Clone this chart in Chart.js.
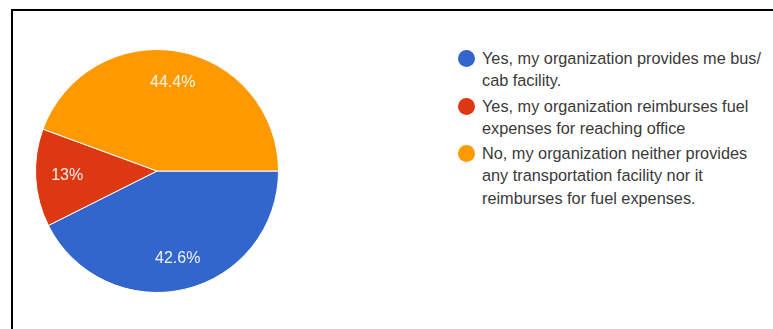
<!DOCTYPE html>
<html>
<head>
<meta charset="utf-8">
<script src="https://cdn.jsdelivr.net/npm/chart.js@4/dist/chart.umd.min.js"></script>
<style>
  html, body { margin: 0; padding: 0; background: #fff; }
  body { width: 773px; height: 329px; position: relative; overflow: hidden; font-family: "Liberation Sans", Arial, sans-serif; }
  #frame { position: absolute; left: 11px; top: 9px; width: 760px; height: 330px; border-left: 2px solid #000; border-top: 2px solid #000; }
  #pieBox { position: absolute; left: 25px; top: 39px; width: 264px; height: 264px; }
  #legend { position: absolute; left: 458px; top: 47px; width: 310px; }
  .item { position: relative; padding-left: 24px; font-size: 16.3px; line-height: 22.3px; color: #3a3a3a; margin-bottom: 3px; }
  .dot { position: absolute; left: 0; top: 3px; width: 17px; height: 17px; border-radius: 50%; }
</style>
</head>
<body>
<div id="frame"></div>
<div id="pieBox"><canvas id="pie"></canvas></div>
<div id="legend"></div>
<script>
// Answer categories (each entry is a list of legend lines)
const categories = [
  ["Yes, my organization provides me bus/", "cab facility."],
  ["Yes, my organization reimburses fuel", "expenses for reaching office"],
  ["No, my organization neither provides", "any transportation facility nor it", "reimburses for fuel expenses."]
];
// Share of responses, in percent
const shares = [42.6, 13, 44.4];
const sliceColors = ["#3366cc", "#dc3912", "#ff9900"];

// Percentage text written inside each slice
const sliceLabels = {
  id: "sliceLabels",
  afterDatasetsDraw(chart) {
    const ctx = chart.ctx;
    const meta = chart.getDatasetMeta(0);
    const data = chart.data.datasets[0].data;
    ctx.save();
    ctx.font = "16px 'Liberation Sans', Arial, sans-serif";
    ctx.fillStyle = "rgba(255,255,255,0.92)";
    ctx.textAlign = "center";
    ctx.textBaseline = "middle";
    meta.data.forEach((arc, i) => {
      const p = arc.getProps(["x", "y", "startAngle", "endAngle", "outerRadius"], true);
      const mid = (p.startAngle + p.endAngle) / 2;
      const r = p.outerRadius * 0.74;
      ctx.fillText(data[i] + "%", p.x + Math.cos(mid) * r, p.y + Math.sin(mid) * r);
    });
    ctx.restore();
  }
};

const chart = new Chart(document.getElementById("pie"), {
  type: "pie",
  data: {
    labels: categories.map(c => c.join(" ")),
    datasets: [{
      data: shares,
      backgroundColor: sliceColors,
      borderColor: "#ffffff",
      borderWidth: 1
    }]
  },
  options: {
    responsive: true,
    maintainAspectRatio: false,
    animation: false,
    rotation: 90,
    layout: { padding: 10 },
    plugins: {
      legend: { display: false },
      tooltip: { enabled: false }
    }
  },
  plugins: [sliceLabels]
});

// Legend built from the chart's own labels and colours
const legendEl = document.getElementById("legend");
categories.forEach((lines, i) => {
  const item = document.createElement("div");
  item.className = "item";
  const dot = document.createElement("span");
  dot.className = "dot";
  dot.style.background = chart.data.datasets[0].backgroundColor[i];
  item.appendChild(dot);
  lines.forEach((line, j) => {
    if (j) item.appendChild(document.createElement("br"));
    item.appendChild(document.createTextNode(line));
  });
  legendEl.appendChild(item);
});
</script>
</body>
</html>
